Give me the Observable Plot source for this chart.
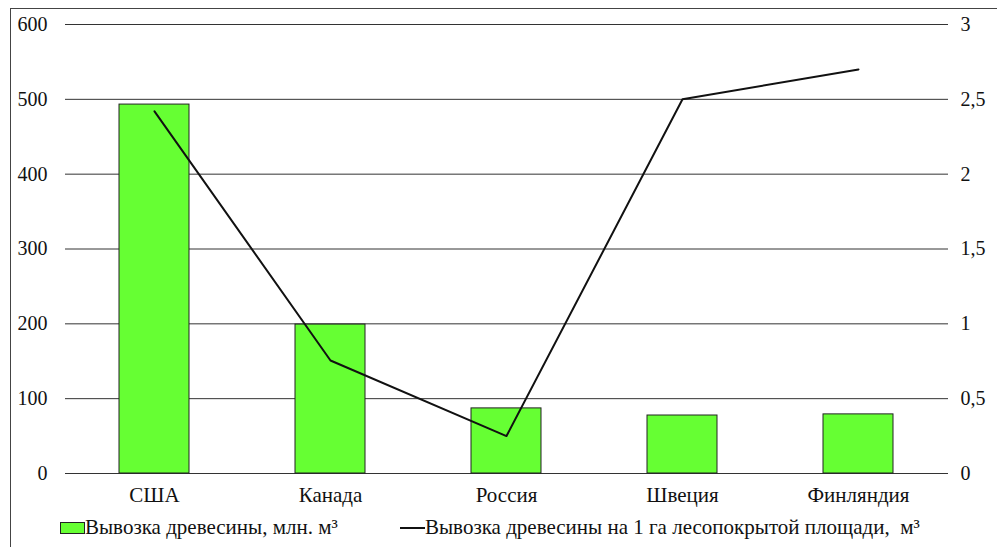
<!DOCTYPE html>
<html><head><meta charset="utf-8">
<script src="https://cdn.jsdelivr.net/npm/d3@7"></script>
<script src="https://cdn.jsdelivr.net/npm/@observablehq/plot@0.6"></script>
<style>
body{margin:0;background:#fff;font-family:"Liberation Serif","Tinos","Noto Serif","DejaVu Serif","Times New Roman",serif;}
#frame{position:absolute;left:10px;top:8px;width:1200px;height:800px;border-left:1.5px solid #444;border-top:1.5px solid #444;}
#chart{position:absolute;left:0;top:0;}
#chart svg text{font-family:"Liberation Serif","Tinos","Noto Serif","DejaVu Serif","Times New Roman",serif;}
#legend{position:absolute;left:0;top:515px;width:997px;height:26px;font-size:21px;color:#111;}
.item{position:absolute;top:0;display:flex;align-items:center;white-space:nowrap;}
.sw{width:25px;height:12px;background:#66ff33;border:1px solid #222;box-sizing:border-box;}
.ln{width:25px;height:2px;background:#111;}
</style></head><body>
<div id="frame"></div>
<div id="chart"></div>
<div id="legend">
  <div class="item" style="left:60px"><div class="sw"></div><span>Вывозка древесины, млн. м³</span></div>
  <div class="item" style="left:400px"><div class="ln"></div><span>Вывозка древесины на 1 га лесопокрытой площади,&nbsp; м³</span></div>
</div>
<script>
const countries = ["США","Канада","Россия","Швеция","Финляндия"];
const removal = [493, 199, 87, 77.5, 79];
const perHa = [2.42, 0.755, 0.25, 2.5, 2.7];
const leftTicks = [0,100,200,300,400,500,600];
const rightTicks = [0,0.5,1,1.5,2,2.5,3];

const ratio = 600/3;
const data = countries.map((c,i)=>({c, removal: removal[i], perHa: perHa[i]}));

const chart = Plot.plot({
  width: 997, height: 510,
  marginTop: 24, marginBottom: 37, marginLeft: 65, marginRight: 49,
  style: {fontSize: "20px", color: "#111", background: "transparent"},
  x: {domain: countries, paddingInner: 0.6, paddingOuter: 0.3, label: null},
  y: {domain: [0, 600], label: null},
  marks: [
    Plot.ruleY(leftTicks, {stroke: "#333", strokeWidth: 1, strokeOpacity: 1}),
    Plot.barY(data, {x: "c", y: "removal", fill: "#66ff33", stroke: "#222", strokeWidth: 1}),
    Plot.line(data, {x: "c", y: d => d.perHa * ratio, stroke: "#111", strokeWidth: 2}),
    Plot.axisY({anchor: "left", ticks: leftTicks, tickSize: 0, tickPadding: 18, label: null, fontSize: 20}),
    Plot.axisY({anchor: "right", ticks: rightTicks.map(v => v*ratio), tickSize: 0, tickPadding: 12, label: null, fontSize: 20,
      tickFormat: d => String(d/ratio).replace(".", ",")}),
    Plot.axisX({tickSize: 0, tickPadding: 14, label: null, fontSize: 21})
  ]
});
document.getElementById("chart").appendChild(chart);
</script>
</body></html>
